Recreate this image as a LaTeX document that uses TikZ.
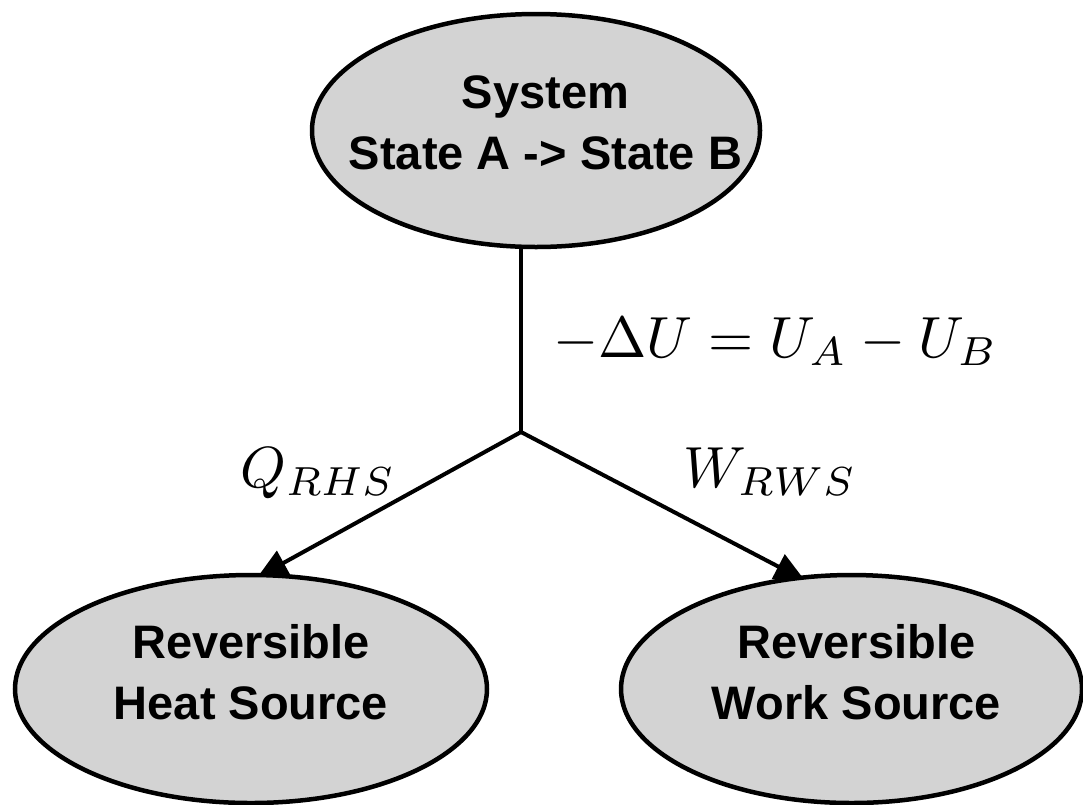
\documentclass[tikz,border=0pt]{standalone}
\usepackage{graphicx}
\usepackage{fontspec}
\newfontfamily\helv{Liberation Sans}
\usetikzlibrary{shapes.geometric,arrows.meta}
\definecolor{ellfill}{RGB}{211,211,211}
\pgfdeclarelayer{background}
\pgfsetlayers{background,main}
\newcommand{\bigmath}[1]{\scalebox{5.8}{$#1$}}
% two centred lines; #3 = raise of first baseline above node centre, #4 = twice the x shift
\newcommand{\elltext}[4]{\raisebox{#3}[0pt][0pt]{\makebox[0pt]{\hspace*{#4}\begin{tabular}[t]{@{}c@{}}#1\\#2\end{tabular}}}}
\begin{document}
\begin{tikzpicture}[x=1pt,y=-1pt,
  ell/.style={ellipse,draw=black,line width=4.5pt,fill=ellfill,inner sep=0pt,
    font=\helv\bfseries\fontsize{47}{61}\selectfont},
  conn/.style={line width=4pt},
  arr/.style={conn,-{Triangle[width=27pt,length=30pt]}},
  lbl/.style={inner sep=0pt}]
\useasboundingbox (0,0) rectangle (1083,804);
\node[ell,minimum width=448pt,minimum height=233pt] (sys) at (536,130.5)
  {\elltext{System}{State A -> State B}{22pt}{19pt}};
\node[ell,minimum width=472pt,minimum height=228pt] (heat) at (251,689)
  {\elltext{Reversible}{Heat Source}{31pt}{0pt}};
\node[ell,minimum width=461pt,minimum height=228pt] (work) at (851.5,689)
  {\elltext{Reversible}{Work Source}{31pt}{10pt}};
\coordinate (jn) at (521,432);
\begin{pgfonlayer}{background}
\draw[conn] (sys.south -| jn) -- (jn);
\draw[arr,shorten >=-9pt] (jn) -- (heat.83);
\draw[arr,shorten >=-9.5pt] (jn) -- (work.116);
\end{pgfonlayer}
\node[lbl,anchor=base west] (du) at (553,357) {\bigmath{-\Delta U = U_A - U_B}};
\node[lbl,anchor=base] (q) at (318,487) {\bigmath{Q_{RHS}}};
\node[lbl,anchor=base] (w) at (770,487) {\bigmath{W_{RWS}}};
\end{tikzpicture}
\end{document}
